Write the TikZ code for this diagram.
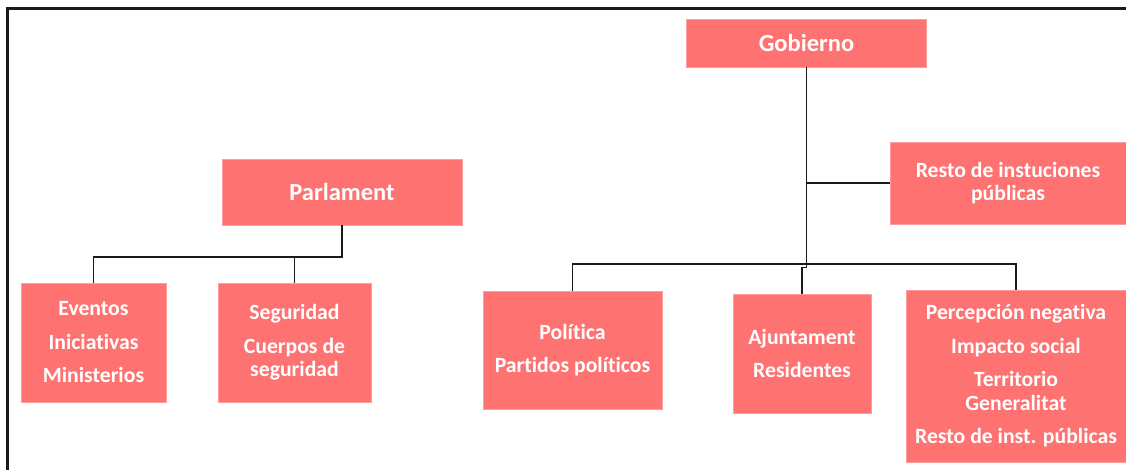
\documentclass[tikz,border=0pt]{standalone}
\usepackage{fontspec}
\setmainfont{Carlito}[Ligatures=NoCommon]
\definecolor{boxfill}{HTML}{FF7272}
\definecolor{boxedge}{HTML}{FF9C9C}
\definecolor{linec}{HTML}{1A1A1A}
\begin{document}
\begin{tikzpicture}[x=1pt,y=-1pt,
  box/.style={draw=boxedge,line width=0.8pt,fill=boxfill,text=white,inner sep=0pt,
    align=center,font=\fontsize{21.7}{23.5}\selectfont\bfseries},
  titlebox/.style={box,font=\fontsize{24.5}{26}\selectfont\bfseries},
  conn/.style={draw=linec,line width=1.6pt}]
\useasboundingbox (0,0) rectangle (1126,470);
\fill[white] (0,0) rectangle (1126,470);
% frame
\draw[line width=2.5pt,draw=linec] (1126,8.5) -- (7.5,8.5) -- (7.5,470);
% nodes
\node[titlebox,minimum width=240pt,minimum height=48pt] (gob) at (806.5,43) {Gobierno};
\node[titlebox,minimum width=240pt,minimum height=66pt] (parl) at (342,192) {Parlament};
\node[box,minimum width=236pt,minimum height=82pt] (resto) at (1008,183) {Resto de instuciones\\públicas};
\node[box,minimum width=145pt,minimum height=119pt] (ev) at (93.5,342.5) {Eventos\\[10pt]Iniciativas\\[10pt]Ministerios};
\node[box,minimum width=153pt,minimum height=119pt] (seg) at (294.5,342.5) {Seguridad\\[10pt]Cuerpos de\\seguridad};
\node[box,minimum width=179pt,minimum height=118pt] (pol) at (572.5,350) {Política\\[10pt]Partidos políticos};
\node[box,minimum width=138pt,minimum height=119pt] (aju) at (802,353.5) {Ajuntament\\[10pt]Residentes};
\node[box,minimum width=220pt,minimum height=172pt] (perc) at (1016,376) {Percepción negativa\\[10pt]Impacto social\\[10pt]Territorio\\Generalitat\\[10pt]Resto de inst. públicas};
% bus coordinates
\coordinate (gbus) at (806.5,264);
\coordinate (pbus) at (342,257);
% connectors right
\draw[conn] (gob.south) -- (gbus);
\draw[conn] (gob.south |- resto.west) -- (resto.west);
\draw[conn] (pol.north) |- (perc.north |- gbus) -- (perc.north);
\draw[conn] (aju.north) -- ++(0,-26) -| (gbus);
% connectors left
\draw[conn] (parl.south) -- (pbus) -| (ev.north);
\draw[conn] (seg.north) -- (seg.north |- pbus);
\end{tikzpicture}
\end{document}
